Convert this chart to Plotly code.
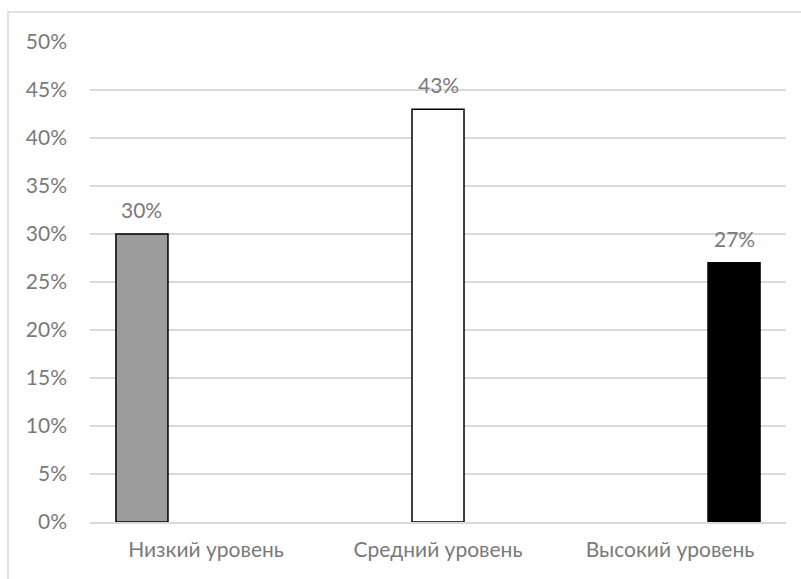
import plotly.graph_objects as go

categories = ["Низкий уровень", "Средний уровень", "Высокий уровень"]
low_vals = [30, None, None]
mid_vals = [None, 43, None]
high_vals = [None, None, 27]
tick_vals = [0, 5, 10, 15, 20, 25, 30, 35, 40, 45, 50]
tick_text = [f"{v}%" for v in tick_vals]

FONT = "Lato, 'Open Sans', sans-serif"
TXT = "#7a7a7a"
FS = 21

L, R, T, B = 90, 15, 42, 57
W, H = 801, 579
plot_w = W - L - R
slot = plot_w / 3 * (1 - 0.172) / 3  # width of one series slot in px

fig = go.Figure()
series = [
    (low_vals, "#9c9c9c", "#000000", -1),
    (mid_vals, "#ffffff", "#000000", 0),
    (high_vals, "#000000", "#000000", 1),
]
for vals, fill, line, k in series:
    fig.add_trace(go.Bar(
        x=categories, y=vals,
        marker=dict(color=fill, line=dict(color=line, width=1.5)),
        showlegend=False, hoverinfo="skip",
    ))
    for c, v in zip(categories, vals):
        if v is not None:
            fig.add_annotation(x=c, y=v, text=f"{v}%", showarrow=False,
                               xshift=k * slot, yshift=10, yanchor="bottom",
                               font=dict(family=FONT, size=FS, color=TXT))

fig.update_layout(
    width=W, height=H,
    margin=dict(l=L, r=R, t=T, b=B),
    paper_bgcolor="white", plot_bgcolor="white",
    barmode="group", bargap=0.172, bargroupgap=0.1875,
    font=dict(family=FONT, size=FS, color=TXT),
    xaxis=dict(showgrid=False, showline=True, linecolor="#d9d9d9", linewidth=1.5,
               ticks="", ticklabelstandoff=8,
               tickfont=dict(family=FONT, size=FS, color=TXT)),
    yaxis=dict(range=[0, 50], tickvals=tick_vals, ticktext=tick_text,
               showgrid=True, gridcolor="#d9d9d9", gridwidth=1.5,
               zeroline=False, showline=False, ticks="",
               ticklabelstandoff=22,
               tickfont=dict(family=FONT, size=FS, color=TXT)),
    shapes=[dict(type="rect", xref="paper", yref="paper",
                 x0=(8 - L) / plot_w, x1=1.2, y0=-0.3, y1=(522 - 12) / 480,
                 line=dict(color="#d9d9d9", width=1.5), fillcolor="rgba(0,0,0,0)",
                 layer="below")],
)

fig.write_html("out.html")
